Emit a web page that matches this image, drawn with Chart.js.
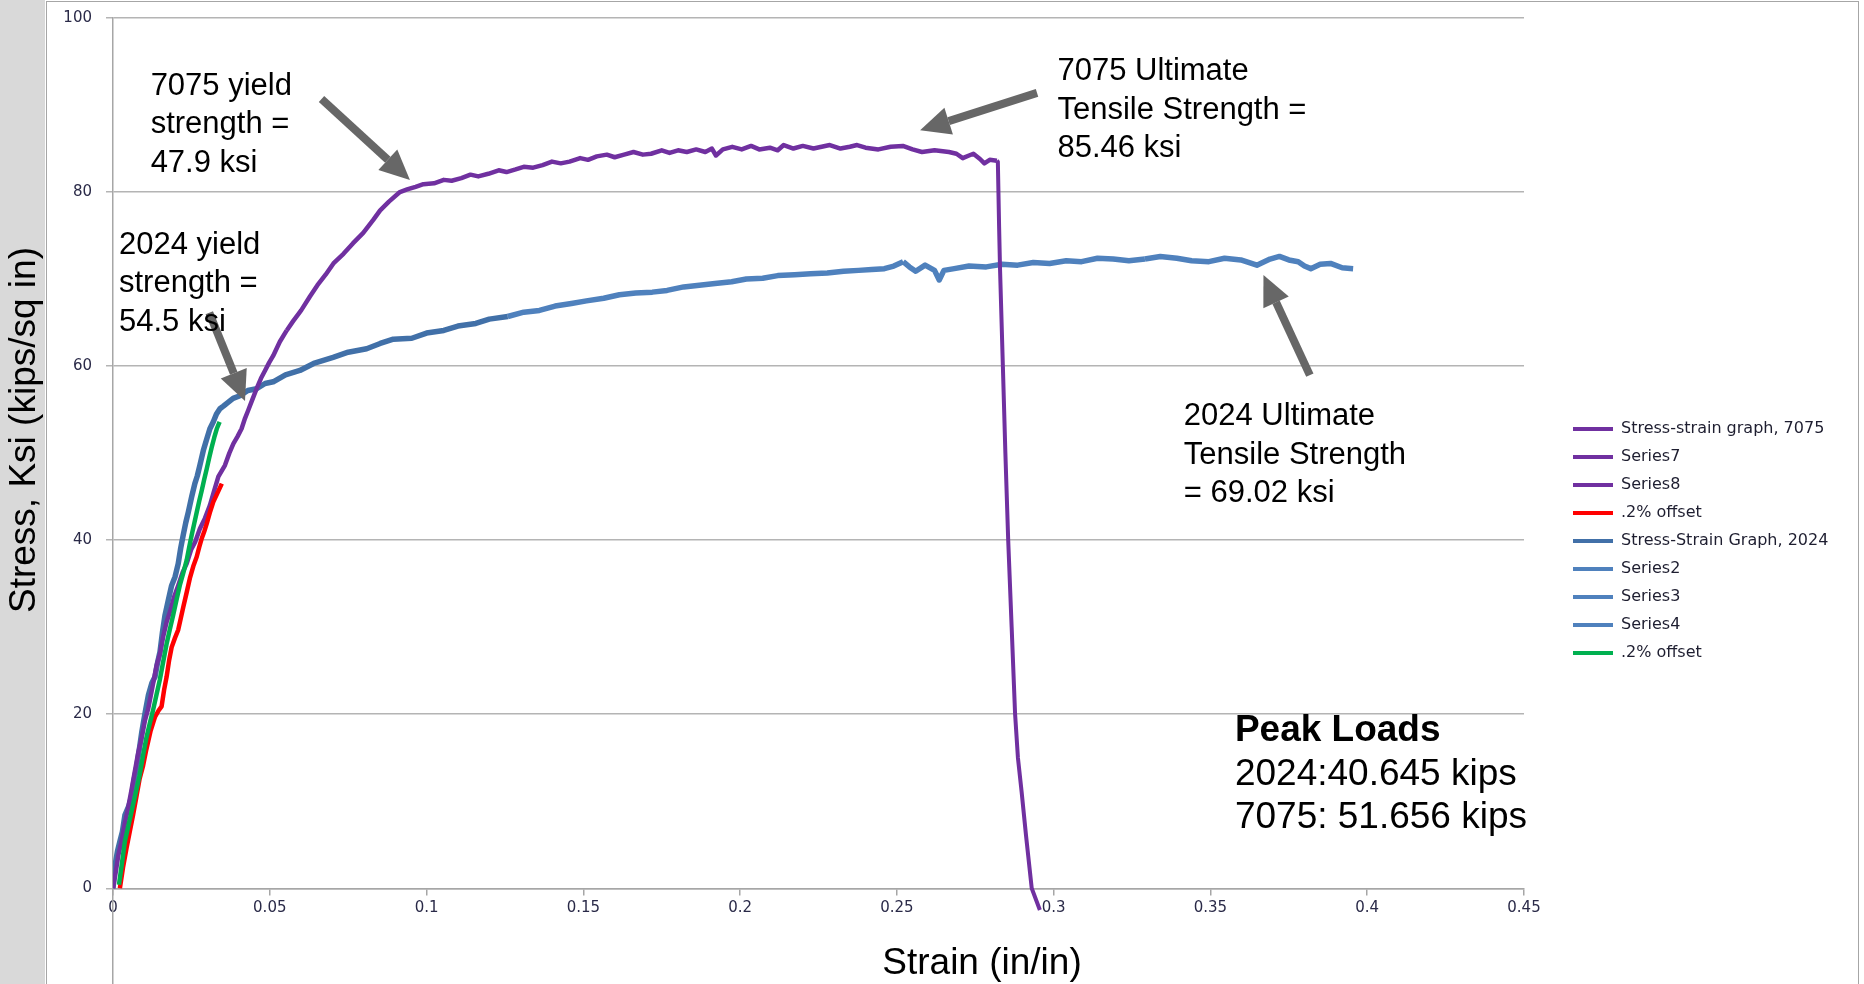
<!DOCTYPE html>
<html>
<head>
<meta charset="utf-8">
<title>Stress-strain 7075 vs 2024</title>
<script src="https://cdn.jsdelivr.net/npm/chart.js@4.4.1/dist/chart.umd.min.js"></script>
<style>
  html, body { margin: 0; padding: 0; width: 1864px; height: 984px; overflow: hidden; background: #fff; }
  #strip { position: absolute; left: 0; top: 0; width: 45px; height: 984px; background: #d9d9d9; }
  #panel { position: absolute; left: 46px; top: 1px; width: 1813px; height: 1100px; background: #fff; border: 1px solid #a6a6a6; box-sizing: border-box; }
  #wrap { position: absolute; left: 0; top: 0; width: 1864px; height: 984px; }
</style>
</head>
<body>
<div id="strip"></div>
<div id="panel"></div>
<div id="wrap"><canvas id="stressChart"></canvas></div>
<script>
// axis ticks
const xTicks = [0, 0.05, 0.1, 0.15, 0.2, 0.25, 0.3, 0.35, 0.4, 0.45];
const yTicks = [0, 20, 40, 60, 80, 100];

// 7075 - elastic part
const strain7075 = [0, 0.0009, 0.0017, 0.0026, 0.0038, 0.0047, 0.0059, 0.0068, 0.0080, 0.0091, 0.0102, 0.0112,
  0.0123, 0.0139, 0.0150, 0.0160, 0.0171, 0.0182, 0.0195, 0.0208, 0.0222, 0.0235, 0.0249, 0.0262, 0.0277,
  0.0293, 0.0309, 0.0322, 0.0336, 0.0357, 0.0371, 0.0384, 0.0397, 0.0410, 0.0421, 0.0431, 0.0445, 0.0458,
  0.0472, 0.0485, 0.0498, 0.0511, 0.0532, 0.0554];
const stress7075 = [0, 1.9, 3.8, 5.2, 7.5, 9.0, 11.3, 13.1, 15.5, 17.2, 19.3, 20.6,
  22.6, 25.6, 27.0, 28.9, 30.6, 31.8, 33.5, 34.8, 36.3, 37.3, 38.9, 39.8, 41.3,
  42.5, 44.0, 45.6, 47.3, 48.6, 50.0, 51.1, 51.9, 52.8, 54.0, 54.9, 56.2, 57.4,
  58.6, 59.5, 60.4, 61.2, 62.8, 64.1];

// 7075 - plastic part (Series7)
const strainSeries7 = [0.0554, 0.0575, 0.0600, 0.0628, 0.0652, 0.0678, 0.0703, 0.0735, 0.0765, 0.0798, 0.0830,
  0.0852, 0.0880, 0.0915, 0.0938, 0.0965, 0.0990, 0.1024, 0.1055, 0.1080, 0.1111, 0.1140, 0.1165, 0.1197,
  0.1230, 0.1255, 0.1284, 0.1310, 0.1340, 0.1370, 0.1400, 0.1428, 0.1456, 0.1490, 0.1515, 0.1543, 0.1575,
  0.1600, 0.1630, 0.1660, 0.1690, 0.1716, 0.1750, 0.1775, 0.1802, 0.1830, 0.1860, 0.1889, 0.1910, 0.1923,
  0.1945, 0.1975, 0.2005, 0.2035, 0.2061, 0.2095, 0.2120, 0.2139, 0.2170, 0.2200, 0.2234, 0.2260, 0.2286,
  0.2320, 0.2350, 0.2373, 0.2400, 0.2441, 0.2480, 0.2519, 0.2550, 0.2580, 0.2620, 0.2666, 0.2690, 0.2710,
  0.2730, 0.2744, 0.2765, 0.2779, 0.2796, 0.2819];
const stressSeries7 = [64.1, 65.2, 66.4, 68.0, 69.3, 70.5, 71.8, 72.9, 74.1, 75.3, 76.8,
  77.9, 78.9, 80.0, 80.3, 80.6, 80.9, 81.0, 81.4, 81.3, 81.6, 82.0, 81.8, 82.1,
  82.5, 82.3, 82.6, 82.9, 82.8, 83.1, 83.5, 83.3, 83.5, 83.9, 83.7, 84.1, 84.3,
  84.0, 84.3, 84.6, 84.3, 84.4, 84.8, 84.5, 84.8, 84.6, 84.9, 84.6, 85.0, 84.2,
  84.9, 85.2, 84.9, 85.3, 84.9, 85.1, 84.8, 85.4, 85.0, 85.3, 85.0, 85.2, 85.4,
  85.0, 85.2, 85.4, 85.1, 84.9, 85.2, 85.3, 84.9, 84.6, 84.8, 84.6, 84.4, 83.9,
  84.2, 84.4, 83.8, 83.3, 83.7, 83.6];

// 7075 - fracture (Series8)
const strainSeries8 = [0.2819, 0.2822, 0.2826, 0.2829, 0.2838, 0.2846, 0.2855, 0.2866, 0.2877, 0.2886, 0.2898, 0.2912, 0.2930, 0.2956];
const stressSeries8 = [83.6, 83.5, 76.0, 71.1, 60.0, 50.0, 40.0, 30.0, 20.0, 15.0, 11.0, 6.0, 0.0, -2.5];

// 7075 .2% offset
const strainOffset7075 = [0.0022, 0.0032, 0.0043, 0.0054, 0.0064, 0.0075, 0.0085, 0.0096, 0.0106, 0.0120, 0.0134,
  0.0145, 0.0155, 0.0163, 0.0171, 0.0179, 0.0187, 0.0198, 0.0208, 0.0216, 0.0224, 0.0235, 0.0245, 0.0256,
  0.0267, 0.0275, 0.0283, 0.0291, 0.0299, 0.0310, 0.0320, 0.0333, 0.0347];
const stressOffset7075 = [0, 2.4, 4.6, 6.6, 8.4, 10.6, 12.6, 14.1, 15.9, 18.1, 19.7,
  20.4, 20.9, 22.8, 24.3, 26.2, 27.7, 28.8, 29.7, 31.0, 32.3, 34.0, 35.6, 37.0,
  38.1, 39.2, 40.2, 41.0, 41.9, 43.3, 44.4, 45.4, 46.5];

// 2024 - elastic + early plastic
const strain2024 = [0, 0.0006, 0.0014, 0.0022, 0.0030, 0.0038, 0.0050, 0.0059, 0.0067, 0.0075, 0.0084, 0.0092,
  0.0103, 0.0113, 0.0124, 0.0134, 0.0142, 0.0150, 0.0158, 0.0166, 0.0177, 0.0187, 0.0198, 0.0208, 0.0216,
  0.0224, 0.0232, 0.0240, 0.0251, 0.0261, 0.0269, 0.0277, 0.0288, 0.0298, 0.0309, 0.0320, 0.0330, 0.0341,
  0.0352, 0.0362, 0.0383, 0.0405, 0.0430, 0.0458, 0.0485, 0.0511, 0.0550, 0.0596, 0.0640, 0.0702, 0.0750,
  0.0809, 0.0852, 0.0894, 0.0953, 0.1000, 0.1055, 0.1100, 0.1157, 0.1200, 0.1259];
const stress2024 = [0, 2.5, 4.2, 5.4, 6.5, 8.4, 9.4, 10.5, 12.4, 13.8, 16.0, 18.0,
  20.3, 22.2, 23.6, 24.3, 25.9, 27.2, 29.5, 31.4, 33.2, 34.8, 35.8, 37.3, 39.1,
  40.6, 42.0, 43.2, 45.0, 46.5, 47.4, 48.6, 50.3, 51.5, 52.8, 53.6, 54.5, 55.1,
  55.4, 55.7, 56.3, 56.6, 57.2, 57.4, 58.0, 58.2, 59.0, 59.5, 60.3, 61.0, 61.6,
  62.0, 62.6, 63.1, 63.2, 63.8, 64.1, 64.6, 64.9, 65.4, 65.7];

// 2024 - Series2..4
const strainSeries2 = [0.1259, 0.1310, 0.1360, 0.1410, 0.1462, 0.1510, 0.1565, 0.1615, 0.1667, 0.1720, 0.1767,
  0.1820, 0.1870, 0.1920, 0.1973, 0.2020, 0.2072, 0.2120, 0.2174, 0.2225, 0.2278, 0.2330, 0.2378, 0.2420,
  0.2460, 0.2490, 0.2520];
const stressSeries2 = [65.7, 66.2, 66.4, 66.9, 67.2, 67.5, 67.8, 68.2, 68.4, 68.5, 68.7,
  69.1, 69.3, 69.5, 69.7, 70.0, 70.1, 70.4, 70.5, 70.6, 70.7, 70.9, 71.0, 71.1,
  71.2, 71.5, 72.0];
const strainSeries3 = [0.2520, 0.2540, 0.2560, 0.2590, 0.2620, 0.2635, 0.2650, 0.2683, 0.2730, 0.2785, 0.2835,
  0.2885, 0.2935, 0.2987, 0.3040, 0.3089, 0.3140, 0.3190, 0.3240, 0.3291];
const stressSeries3 = [72.0, 71.4, 70.9, 71.6, 71.0, 69.9, 71.0, 71.2, 71.5, 71.4, 71.7,
  71.6, 71.9, 71.8, 72.1, 72.0, 72.4, 72.3, 72.1, 72.3];
const strainSeries4 = [0.3291, 0.3340, 0.3393, 0.3440, 0.3495, 0.3545, 0.3597, 0.3648, 0.3690, 0.3720, 0.3750,
  0.3780, 0.3800, 0.3820, 0.3850, 0.3883, 0.3920, 0.3955];
const stressSeries4 = [72.3, 72.6, 72.4, 72.1, 72.0, 72.4, 72.2, 71.6, 72.3, 72.6, 72.2,
  72.0, 71.5, 71.2, 71.7, 71.8, 71.3, 71.2];

// 2024 .2% offset
const strainOffset2024 = [0.0019, 0.0029, 0.0038, 0.0048, 0.0059, 0.0072, 0.0085, 0.0096, 0.0106, 0.0117, 0.0128,
  0.0139, 0.0149, 0.0160, 0.0171, 0.0181, 0.0192, 0.0203, 0.0213, 0.0224, 0.0235, 0.0243, 0.0251, 0.0259,
  0.0267, 0.0275, 0.0283, 0.0291, 0.0299, 0.0307, 0.0315, 0.0323, 0.0331, 0.0340];
const stressOffset2024 = [0.4, 3.0, 5.4, 7.0, 8.8, 10.9, 13.0, 15.3, 17.2, 18.9, 20.5,
  22.3, 23.9, 26.0, 28.1, 29.7, 31.4, 33.2, 34.8, 36.2, 37.7, 39.2, 40.6, 41.9,
  43.2, 44.5, 45.7, 47.0, 48.2, 49.5, 50.7, 51.8, 52.8, 53.6];

const colors = {
  purple: '#7030a0',
  red: '#ff0000',
  blueDark: '#4170a8',
  blue: '#4f81bd',
  green: '#00b050',
  grid: '#b4b4b4',
  axis: '#a6a6a6',
  arrow: '#676767',
  tick: '#2a2a48'
};

// annotation texts and arrows, anchored in data units (strain, stress)
const notes = [
  { at: [0.0120, 91.15], lines: ['7075 yield', 'strength =', '47.9 ksi'] },
  { at: [0.0019, 72.87], lines: ['2024 yield', 'strength =', '54.5 ksi'] },
  { at: [0.3012, 92.83], lines: ['7075 Ultimate', 'Tensile Strength =', '85.46 ksi'] },
  { at: [0.3415, 53.2], lines: ['2024 Ultimate', 'Tensile Strength', '= 69.02 ksi'] }
];
const peakNote = { at: [0.3578, 16.9], title: 'Peak Loads', lines: ['2024:40.645 kips', '7075: 51.656 kips'] };
const arrows = [
  { from: [0.0665, 90.69], to: [0.0947, 81.38] },
  { from: [0.2947, 91.4], to: [0.2574, 87.1] },
  { from: [0.0307, 66.13], to: [0.0421, 55.98] },
  { from: [0.3817, 58.97], to: [0.3669, 70.46] }
];

const zip = (xs, ys) => xs.map((x, i) => ({ x: x, y: ys[i] }));

const series = [
  { label: 'Stress-strain graph, 7075', xs: strain7075, ys: stress7075, color: colors.purple, width: 4.5, order: 3 },
  { label: 'Series7', xs: strainSeries7, ys: stressSeries7, color: colors.purple, width: 4.5, order: 3 },
  { label: 'Series8', xs: strainSeries8, ys: stressSeries8, color: colors.purple, width: 4, order: 3 },
  { label: '.2% offset', xs: strainOffset7075, ys: stressOffset7075, color: colors.red, width: 4.5, order: 2 },
  { label: 'Stress-Strain Graph, 2024', xs: strain2024, ys: stress2024, color: colors.blueDark, width: 5.5, order: 4 },
  { label: 'Series2', xs: strainSeries2, ys: stressSeries2, color: colors.blue, width: 5.5, order: 4 },
  { label: 'Series3', xs: strainSeries3, ys: stressSeries3, color: colors.blue, width: 5.5, order: 4 },
  { label: 'Series4', xs: strainSeries4, ys: stressSeries4, color: colors.blue, width: 5.5, order: 4 },
  { label: '.2% offset', xs: strainOffset2024, ys: stressOffset2024, color: colors.green, width: 4.5, order: 1 }
];

const drawArrow = (ctx, x1, y1, x2, y2) => {
  const ang = Math.atan2(y2 - y1, x2 - x1);
  const headLen = 30;
  const headHalf = 14;
  const bx = x2 - headLen * Math.cos(ang);
  const by = y2 - headLen * Math.sin(ang);
  ctx.strokeStyle = colors.arrow;
  ctx.fillStyle = colors.arrow;
  ctx.lineWidth = 8;
  ctx.lineCap = 'butt';
  ctx.beginPath();
  ctx.moveTo(x1, y1);
  ctx.lineTo(bx, by);
  ctx.stroke();
  ctx.beginPath();
  ctx.moveTo(x2, y2);
  ctx.lineTo(bx + headHalf * Math.sin(ang), by - headHalf * Math.cos(ang));
  ctx.lineTo(bx - headHalf * Math.sin(ang), by + headHalf * Math.cos(ang));
  ctx.closePath();
  ctx.fill();
};

const overlay = {
  id: 'overlay',
  afterLayout(chart) {
    // park the legend to the right of the plot
    const lg = chart.legend;
    if (!lg) return;
    lg.left = 1561;
    lg.right = lg.left + lg.width;
    lg.top = 409;
    lg.bottom = lg.top + 320;
  },
  afterDatasetsDraw(chart) {
    const { ctx, scales: { x, y } } = chart;
    ctx.save();
    arrows.forEach(a => drawArrow(ctx,
      x.getPixelForValue(a.from[0]), y.getPixelForValue(a.from[1]),
      x.getPixelForValue(a.to[0]), y.getPixelForValue(a.to[1])));

    ctx.fillStyle = '#000';
    ctx.textAlign = 'left';
    ctx.textBaseline = 'alphabetic';
    ctx.font = '31px "Liberation Sans", Arial, sans-serif';
    notes.forEach(n => {
      const px = x.getPixelForValue(n.at[0]);
      const py = y.getPixelForValue(n.at[1]);
      n.lines.forEach((t, i) => ctx.fillText(t, px, py + i * 38.3));
    });

    const px = x.getPixelForValue(peakNote.at[0]);
    const py = y.getPixelForValue(peakNote.at[1]);
    ctx.font = 'bold 37px "Liberation Sans", Arial, sans-serif';
    ctx.fillText(peakNote.title, px, py);
    ctx.font = '37px "Liberation Sans", Arial, sans-serif';
    peakNote.lines.forEach((t, i) => ctx.fillText(t, px, py + (i + 1) * 43.6));
    ctx.restore();
  },
  afterDraw(chart) {
    const { ctx } = chart;
    ctx.save();
    ctx.fillStyle = '#000';
    ctx.font = '37px "Liberation Sans", Arial, sans-serif';
    ctx.textAlign = 'center';
    ctx.textBaseline = 'middle';
    ctx.fillText('Strain (in/in)', 982, 964);
    ctx.translate(25, 430);
    ctx.rotate(-Math.PI / 2);
    ctx.fillText('Stress, Ksi (kips/sq in)', 0, 0);
    ctx.restore();
  }
};

Chart.defaults.font.family = '"DejaVu Sans", sans-serif';

new Chart(document.getElementById('stressChart').getContext('2d'), {
  type: 'scatter',
  data: {
    datasets: series.map(s => ({
      label: s.label,
      data: zip(s.xs, s.ys),
      showLine: true,
      borderColor: s.color,
      backgroundColor: s.color,
      borderWidth: s.width,
      pointRadius: 0,
      pointHoverRadius: 0,
      tension: 0,
      borderJoinStyle: 'round',
      order: s.order
    }))
  },
  options: {
    responsive: true,
    maintainAspectRatio: false,
    devicePixelRatio: 1,
    animation: false,
    layout: { padding: { left: 0, top: 18, right: 340, bottom: 0 } },
    plugins: {
      tooltip: { enabled: false },
      legend: {
        position: 'chartArea',
        align: 'start',
        labels: {
          boxWidth: 40,
          boxHeight: 4,
          padding: 12,
          color: '#1e1e30',
          font: { size: 16 },
          sort: (a, b) => a.datasetIndex - b.datasetIndex,
          generateLabels: (chart) => Chart.defaults.plugins.legend.labels.generateLabels(chart)
            .map(item => ({ ...item, lineWidth: 0 }))
        }
      }
    },
    scales: {
      x: {
        type: 'linear',
        min: 0,
        max: 0.45,
        position: { y: 0 },
        afterBuildTicks: (scale) => { scale.ticks = xTicks.map(v => ({ value: v })); },
        grid: { drawOnChartArea: false, drawTicks: true, tickLength: 6, color: colors.axis, lineWidth: 1.5 },
        border: { color: colors.axis, width: 1.5 },
        ticks: { color: colors.tick, font: { size: 15 }, padding: 5, maxRotation: 0, callback: (v) => String(v) }
      },
      y: {
        type: 'linear',
        min: -11,
        max: 100,
        position: 'left',
        afterFit: (scale) => {
          scale.width = 113;
          scale.paddingTop = 0;
          scale.paddingBottom = 0;
        },
        afterBuildTicks: (scale) => { scale.ticks = yTicks.map(v => ({ value: v })); },
        grid: { color: colors.grid, lineWidth: 1.5, tickLength: 7 },
        border: { color: colors.axis, width: 1.5 },
        ticks: { color: colors.tick, font: { size: 15 }, padding: 14, callback: (v) => String(v) }
      }
    }
  },
  plugins: [overlay]
});
</script>
</body>
</html>
